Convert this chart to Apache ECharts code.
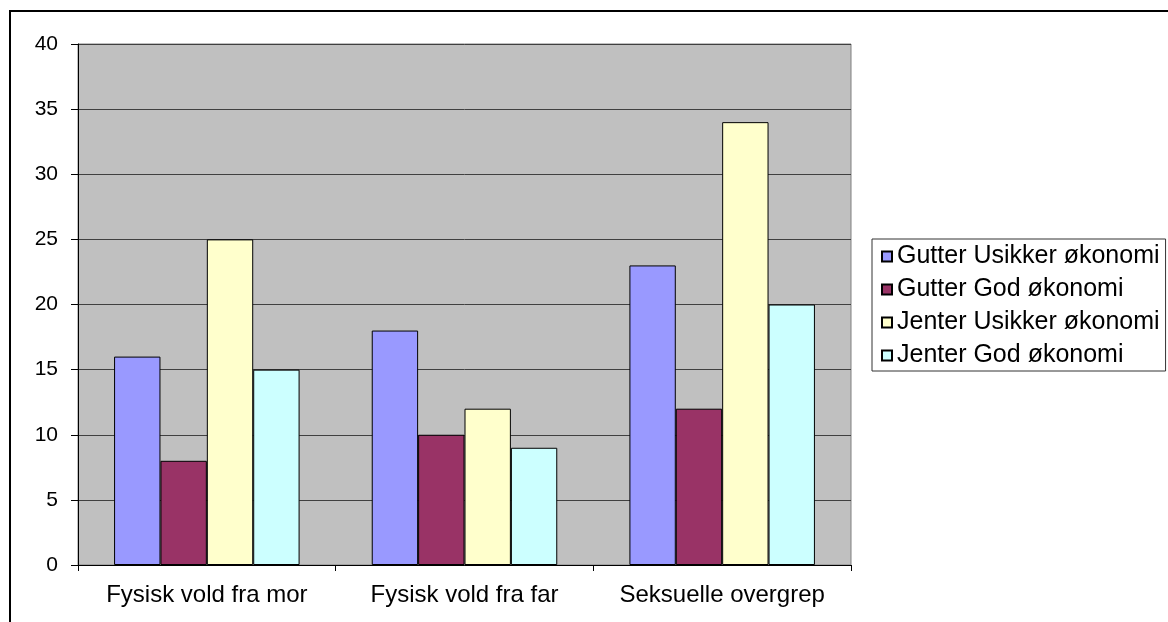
<!DOCTYPE html>
<html>
<head>
<meta charset="utf-8">
<script src="https://cdn.jsdelivr.net/npm/echarts@6/dist/echarts.min.js"></script>
<style>
  html, body { margin: 0; padding: 0; background: #fff; }
  #chart { width: 1168px; height: 622px; }
</style>
</head>
<body>
<div id="chart"></div>
<script>
// data
var categories = ['Fysisk vold fra mor', 'Fysisk vold fra far', 'Seksuelle overgrep'];
var seriesNames = ['Gutter Usikker økonomi', 'Gutter God økonomi', 'Jenter Usikker økonomi', 'Jenter God økonomi'];
var gutterUsikker = [16, 18, 23];
var gutterGod = [8, 10, 12];
var jenterUsikker = [25, 12, 34];
var jenterGod = [15, 9, 20];
var colors = ['#9999FF', '#993366', '#FFFFCC', '#CCFFFF'];

var font = '"Liberation Sans", Arial, sans-serif';
var values = [gutterUsikker, gutterGod, jenterUsikker, jenterGod];

var series = [];
for (var i = 0; i < seriesNames.length; i++) {
  series.push({
    name: seriesNames[i],
    type: 'bar',
    barGap: '0%',
    barCategoryGap: '28%',
    itemStyle: { color: colors[i], borderColor: '#000', borderWidth: 1 },
    emphasis: { disabled: true },
    data: values[i]
  });
}

var chart = echarts.init(document.getElementById('chart'));
var option = {
  animation: false,
  backgroundColor: '#fff',
  textStyle: { fontFamily: font, color: '#000' },
  graphic: [{
    type: 'rect',
    shape: { x: 10, y: 11, width: 1300, height: 800 },
    style: { fill: 'none', stroke: '#000', lineWidth: 2 },
    silent: true
  }],
  grid: {
    left: 78, top: 44, right: 317, bottom: 57,
    show: true,
    backgroundColor: '#C0C0C0',
    borderColor: '#808080',
    borderWidth: 1
  },
  legend: {
    orient: 'vertical',
    left: 872,
    top: 239,
    padding: [5, 6, 3, 9],
    itemWidth: 10,
    itemHeight: 10,
    itemGap: 8,
    borderColor: '#333',
    borderWidth: 1,
    backgroundColor: '#fff',
    icon: 'rect',
    textStyle: { fontFamily: font, fontSize: 25, color: '#000' },
    data: seriesNames
  },
  xAxis: {
    type: 'category',
    data: categories,
    axisLine: { lineStyle: { color: '#000', width: 1 } },
    axisTick: { show: true, interval: 0, length: 6, lineStyle: { color: '#000' } },
    axisLabel: { interval: 0, hideOverlap: false, fontFamily: font, fontSize: 24, color: '#000', margin: 18 },
    splitLine: { show: false }
  },
  yAxis: {
    type: 'value',
    min: 0,
    max: 40,
    interval: 5,
    axisLine: { show: true, lineStyle: { color: '#000', width: 1 } },
    axisTick: { show: true, length: 7, lineStyle: { color: '#000' } },
    axisLabel: { fontFamily: font, fontSize: 21, color: '#000', margin: 20 },
    splitLine: { show: true, lineStyle: { color: '#404040', width: 1 } }
  },
  series: series
};
chart.setOption(option);
</script>
</body>
</html>
